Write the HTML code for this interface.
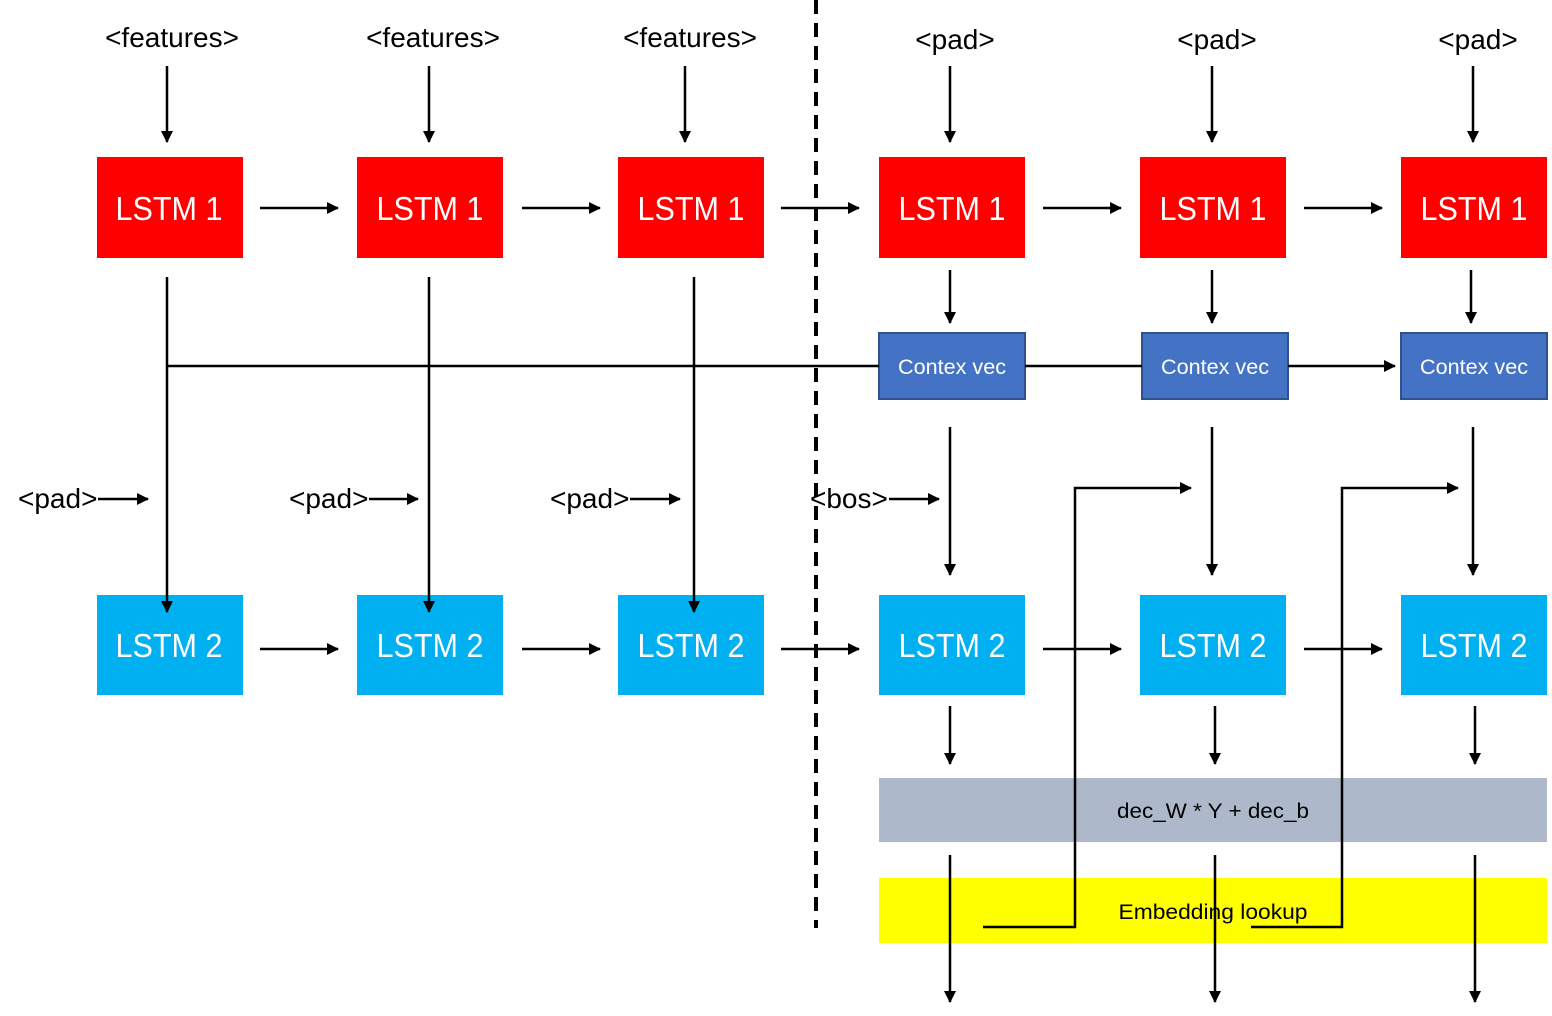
<!DOCTYPE html>
<html><head><meta charset="utf-8"><style>
html,body{margin:0;padding:0;background:#fff;}
svg{display:block;}
</style></head><body>
<svg width="1552" height="1016" viewBox="0 0 1552 1016" xmlns="http://www.w3.org/2000/svg">
<defs>
<marker id="a" markerWidth="14" markerHeight="14" refX="11" refY="6" orient="auto" markerUnits="userSpaceOnUse">
<path d="M0,0 L12,6 L0,12 z" fill="#000"/>
</marker>
</defs>
<g font-family="Liberation Sans, Arial, sans-serif">
<g fill="#FF0000">
<rect x="97" y="157" width="146" height="101"/>
<rect x="357" y="157" width="146" height="101"/>
<rect x="618" y="157" width="146" height="101"/>
<rect x="879" y="157" width="146" height="101"/>
<rect x="1140" y="157" width="146" height="101"/>
<rect x="1401" y="157" width="146" height="101"/>
</g>
<g fill="#00B0F0">
<rect x="97" y="595" width="146" height="100"/>
<rect x="357" y="595" width="146" height="100"/>
<rect x="618" y="595" width="146" height="100"/>
<rect x="879" y="595" width="146" height="100"/>
<rect x="1140" y="595" width="146" height="100"/>
<rect x="1401" y="595" width="146" height="100"/>
</g>
<g fill="#4472C4" stroke="#2F528F" stroke-width="2">
<rect x="879" y="333" width="146" height="66"/>
<rect x="1142" y="333" width="146" height="66"/>
<rect x="1401" y="333" width="146" height="66"/>
</g>
<rect x="879" y="778" width="668" height="64" fill="#ADB9CA"/>
<rect x="879" y="878" width="668" height="65" fill="#FFFF00"/>

<g fill="#fff" font-size="33" text-anchor="middle" lengthAdjust="spacingAndGlyphs">
<text x="169" y="220" textLength="107" lengthAdjust="spacingAndGlyphs">LSTM 1</text>
<text x="430" y="220" textLength="107" lengthAdjust="spacingAndGlyphs">LSTM 1</text>
<text x="691" y="220" textLength="107" lengthAdjust="spacingAndGlyphs">LSTM 1</text>
<text x="952" y="220" textLength="107" lengthAdjust="spacingAndGlyphs">LSTM 1</text>
<text x="1213" y="220" textLength="107" lengthAdjust="spacingAndGlyphs">LSTM 1</text>
<text x="1474" y="220" textLength="107" lengthAdjust="spacingAndGlyphs">LSTM 1</text>
<text x="169" y="657" textLength="107" lengthAdjust="spacingAndGlyphs">LSTM 2</text>
<text x="430" y="657" textLength="107" lengthAdjust="spacingAndGlyphs">LSTM 2</text>
<text x="691" y="657" textLength="107" lengthAdjust="spacingAndGlyphs">LSTM 2</text>
<text x="952" y="657" textLength="107" lengthAdjust="spacingAndGlyphs">LSTM 2</text>
<text x="1213" y="657" textLength="107" lengthAdjust="spacingAndGlyphs">LSTM 2</text>
<text x="1474" y="657" textLength="107" lengthAdjust="spacingAndGlyphs">LSTM 2</text>
</g>
<g fill="#fff" font-size="21" text-anchor="middle">
<text x="952" y="374" textLength="108" lengthAdjust="spacingAndGlyphs">Contex vec</text>
<text x="1215" y="374" textLength="108" lengthAdjust="spacingAndGlyphs">Contex vec</text>
<text x="1474" y="374" textLength="108" lengthAdjust="spacingAndGlyphs">Contex vec</text>
</g>
<g fill="#000" font-size="21" text-anchor="middle">
<text x="1213" y="818" textLength="192" lengthAdjust="spacingAndGlyphs">dec_W * Y + dec_b</text>
<text x="1213" y="919" textLength="189" lengthAdjust="spacingAndGlyphs">Embedding lookup</text>
</g>
<g fill="#000" font-size="28" text-anchor="middle">
<text x="172" y="47">&lt;features&gt;</text>
<text x="433" y="47">&lt;features&gt;</text>
<text x="690" y="47">&lt;features&gt;</text>
<text x="955" y="49">&lt;pad&gt;</text>
<text x="1217" y="49">&lt;pad&gt;</text>
<text x="1478" y="49">&lt;pad&gt;</text>
</g>
<g fill="#000" font-size="28">
<text x="18" y="508">&lt;pad&gt;</text>
<text x="289" y="508">&lt;pad&gt;</text>
<text x="550" y="508">&lt;pad&gt;</text>
<text x="810" y="508">&lt;bos&gt;</text>
</g>

<line x1="816" y1="0" x2="816" y2="928" stroke="#000" stroke-width="4" stroke-dasharray="14,9"/>

<g stroke="#000" stroke-width="2.5" fill="none">
<line x1="167" y1="66" x2="167" y2="142" marker-end="url(#a)"/>
<line x1="429" y1="66" x2="429" y2="142" marker-end="url(#a)"/>
<line x1="685" y1="66" x2="685" y2="142" marker-end="url(#a)"/>
<line x1="950" y1="66" x2="950" y2="142" marker-end="url(#a)"/>
<line x1="1212" y1="66" x2="1212" y2="142" marker-end="url(#a)"/>
<line x1="1473" y1="66" x2="1473" y2="142" marker-end="url(#a)"/>
<line x1="260" y1="208" x2="338" y2="208" marker-end="url(#a)"/>
<line x1="522" y1="208" x2="600" y2="208" marker-end="url(#a)"/>
<line x1="781" y1="208" x2="859" y2="208" marker-end="url(#a)"/>
<line x1="1043" y1="208" x2="1121" y2="208" marker-end="url(#a)"/>
<line x1="1304" y1="208" x2="1382" y2="208" marker-end="url(#a)"/>
<line x1="260" y1="649" x2="338" y2="649" marker-end="url(#a)"/>
<line x1="522" y1="649" x2="600" y2="649" marker-end="url(#a)"/>
<line x1="781" y1="649" x2="859" y2="649" marker-end="url(#a)"/>
<line x1="1043" y1="649" x2="1121" y2="649" marker-end="url(#a)"/>
<line x1="1304" y1="649" x2="1382" y2="649" marker-end="url(#a)"/>
<line x1="167" y1="277" x2="167" y2="612" marker-end="url(#a)"/>
<line x1="429" y1="277" x2="429" y2="612" marker-end="url(#a)"/>
<line x1="694" y1="277" x2="694" y2="612" marker-end="url(#a)"/>
<line x1="167" y1="366" x2="879" y2="366"/>
<line x1="1025" y1="366" x2="1142" y2="366"/>
<line x1="1288" y1="366" x2="1395" y2="366" marker-end="url(#a)"/>
<line x1="950" y1="270" x2="950" y2="323" marker-end="url(#a)"/>
<line x1="1212" y1="270" x2="1212" y2="323" marker-end="url(#a)"/>
<line x1="1471" y1="270" x2="1471" y2="323" marker-end="url(#a)"/>
<line x1="950" y1="427" x2="950" y2="575" marker-end="url(#a)"/>
<line x1="1212" y1="427" x2="1212" y2="575" marker-end="url(#a)"/>
<line x1="1473" y1="427" x2="1473" y2="575" marker-end="url(#a)"/>
<line x1="98" y1="499" x2="148" y2="499" marker-end="url(#a)"/>
<line x1="369" y1="499" x2="418" y2="499" marker-end="url(#a)"/>
<line x1="630" y1="499" x2="680" y2="499" marker-end="url(#a)"/>
<line x1="889" y1="499" x2="939" y2="499" marker-end="url(#a)"/>
<polyline points="983,927 1075,927 1075,488 1191,488" marker-end="url(#a)"/>
<polyline points="1251,927 1342,927 1342,488 1458,488" marker-end="url(#a)"/>
<line x1="950" y1="706" x2="950" y2="764" marker-end="url(#a)"/>
<line x1="1215" y1="706" x2="1215" y2="764" marker-end="url(#a)"/>
<line x1="1475" y1="706" x2="1475" y2="764" marker-end="url(#a)"/>
<line x1="950" y1="855" x2="950" y2="1002" marker-end="url(#a)"/>
<line x1="1215" y1="855" x2="1215" y2="1002" marker-end="url(#a)"/>
<line x1="1475" y1="855" x2="1475" y2="1002" marker-end="url(#a)"/>
</g>
</g>
</svg>
</body></html>
